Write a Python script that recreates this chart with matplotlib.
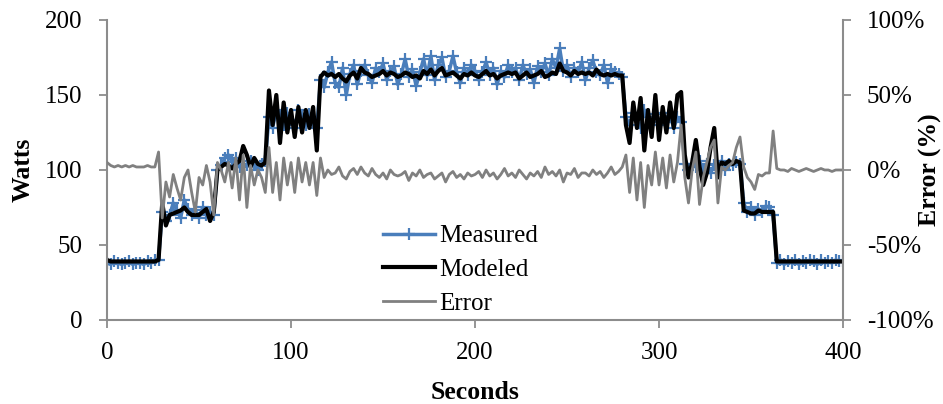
import matplotlib
matplotlib.use("Agg")
import matplotlib.pyplot as plt
from matplotlib.ticker import FuncFormatter
import numpy as np

plt.rcParams['font.family'] = ['Liberation Serif', 'DejaVu Serif']

# time axis, one sample every 2 s
seconds = np.arange(0, 401, 2)

measured = [
    38, 37, 39, 38, 37, 38, 39, 37, 38, 38,             # 0-18
    37, 39, 38, 40, 40, 72, 66, 70, 78, 73,             # 20-38
    68, 80, 74, 70, 73, 68, 75, 70, 72, 70,             # 40-58
    100, 103, 108, 110, 105, 108, 102, 104, 103, 106,   # 60-78
    103, 100, 104, 106, 135, 128, 140, 135, 130, 138,   # 80-98
    133, 128, 140, 135, 130, 137, 132, 128, 160, 155,   # 100-118
    165, 172, 158, 155, 168, 150, 164, 170, 157, 166,   # 120-138
    170, 163, 158, 168, 165, 171, 160, 166, 169, 157,   # 140-158
    164, 174, 162, 167, 156, 165, 174, 163, 176, 160,   # 160-178
    170, 175, 162, 166, 176, 165, 158, 168, 163, 170,   # 180-198
    166, 160, 165, 172, 163, 168, 157, 166, 162, 170,   # 200-218
    165, 168, 160, 170, 164, 167, 158, 169, 165, 171,   # 220-238
    163, 174, 168, 181, 166, 170, 162, 168, 165, 172,   # 240-258
    160, 168, 173, 165, 163, 170, 158, 167, 165, 164,   # 260-278
    162, 135, 130, 138, 133, 128, 140, 135, 132, 137,   # 280-298
    130, 138, 132, 136, 128, 135, 132, 104, 100, 104,   # 300-318
    102, 106, 100, 104, 98, 103, 101, 106, 100, 104,    # 320-338
    103, 105, 104, 78, 72, 75, 70, 74, 72, 76,          # 340-358
    75, 70, 38, 40, 37, 39, 38, 40, 37, 39,             # 360-378
    38, 40, 39, 37, 40, 38, 39, 38, 40, 39,             # 380-398
    39,                                                 # 400
]

modeled = [
    40, 39, 39, 39, 39, 39, 39, 39, 39, 39,
    39, 39, 39, 39, 40, 78, 63, 70, 71, 72,
    73, 75, 72, 70, 70, 70, 72, 74, 66, 72,
    100, 102, 104, 103, 101, 104, 106, 116, 110, 102,
    108, 104, 103, 105, 153, 130, 150, 118, 145, 125,
    140, 122, 142, 125, 140, 128, 142, 113, 162, 165,
    163, 164, 162, 164, 161, 159, 163, 165, 161, 168,
    165, 164, 162, 163, 164, 166, 163, 165, 164, 162,
    163, 165, 164, 162, 163, 161, 166, 164, 167, 163,
    166, 168, 163, 164, 165, 163, 161, 164, 163, 165,
    163, 162, 164, 166, 163, 164, 161, 163, 164, 165,
    164, 165, 161, 163, 165, 162, 163, 164, 166, 162,
    163, 165, 164, 171, 166, 165, 163, 166, 164, 165,
    164, 165, 163, 167, 164, 163, 164, 163, 164, 163,
    163, 130, 118, 145, 128, 148, 113, 140, 122, 150,
    120, 142, 125, 145, 128, 150, 152, 110, 95, 105,
    120, 102, 90, 98, 115, 128, 95, 105, 104, 106,
    104, 106, 105, 73, 72, 71, 71, 73, 72, 72,
    72, 72, 39, 39, 39, 39, 39, 39, 39, 39,
    39, 39, 39, 39, 39, 39, 39, 39, 39, 39,
    39,
]

error_pct = [
    5, 3, 2, 3, 2, 3, 2, 3, 2, 2,
    2, 3, 2, 2, 12, -32, -8, -18, -3, -12,
    -20, -5, 0, -15, -28, -5, -10, 3, -8, -30,
    5, 0, -8, 5, -12, 8, -20, 10, -25, 3,
    -10, 0, -5, -15, 15, -15, 5, -20, 8, -10,
    5, -15, 8, -8, 5, -10, 5, -17, 8, -5,
    0, -3, -2, 2, -4, -6, -1, 1, -3, 2,
    -2, -4, 1, -3, -5, -2, -6, 0, -3, -4,
    -3, -1, -7, -2, -4, 0, -5, -3, -2, -6,
    -4, -2, -8, -3, -1, -5, -3, -6, -2, -4,
    -3, -1, -5, 0, -4, -2, -6, -3, 1, -4,
    -2, -5, 0, -3, -6, -2, -4, -1, -5, 2,
    -3, -1, -4, 0, -8, -2, -3, 1, -5, -2,
    -2, -4, 0, -3, -1, -5, -2, 2, -3, -1,
    2, 10, -15, 8, -20, 5, -25, 3, -10, 12,
    -10, 8, -12, 10, -8, 5, 30, -5, -22, 0,
    12, -23, -5, 5, 15, 20, -22, 2, 0, 3,
    5, 15, 22, 2, -5, -8, -13, -3, -4, -2,
    -2, 26, 1, 0, 0, -1, 1, 0, -1, 0,
    1, 0, -1, 0, 1, 0, 0, -1, 0, 0,
    0,
]

spine_gray = '#8c8c8c'

fig = plt.figure(figsize=(9.43, 4.04), dpi=100)
ax = fig.add_axes([0.1135, 0.208, 0.7805, 0.7425])
ax2 = ax.twinx()

l1, = ax.plot(seconds, measured, color='#4a7ebb', lw=2.5, marker='+',
              ms=9, mew=1.6, label='Measured')
l2, = ax.plot(seconds, modeled, color='black', lw=3, label='Modeled')
l3, = ax2.plot(seconds, error_pct, color='#808080', lw=2, label='Error')

ax.set_xlim(0, 400)
ax.set_ylim(0, 200)
ax2.set_ylim(-100, 100)
ax.set_xticks([0, 100, 200, 300, 400])
ax.set_yticks([0, 50, 100, 150, 200])
ax2.set_yticks([-100, -50, 0, 50, 100])
ax2.yaxis.set_major_formatter(FuncFormatter(lambda v, p: '%d%%' % v))

for a in (ax, ax2):
    a.spines['top'].set_visible(False)
    for s in ('left', 'right', 'bottom'):
        a.spines[s].set_color(spine_gray)
        a.spines[s].set_linewidth(1.5)
    a.tick_params(colors=spine_gray, labelcolor='black', labelsize=18,
                  length=6, width=1.3)
ax.spines['right'].set_visible(False)
ax2.spines['left'].set_visible(False)
ax2.spines['bottom'].set_visible(False)
ax.tick_params(axis='y', pad=12)
ax.tick_params(axis='x', pad=10)
ax2.tick_params(axis='y', pad=11)

ax.set_xlabel('Seconds', fontsize=18.5, fontweight='bold', labelpad=12)
ax.set_ylabel('Watts', fontsize=18.5, fontweight='bold')
ax.yaxis.set_label_coords(-0.098, 0.5)
ax2.set_ylabel('Error (%)', fontsize=18.5, fontweight='bold')
ax2.yaxis.set_label_coords(1.103, 0.5)

ax2.legend([l1, l2, l3], ['Measured', 'Modeled', 'Error'], loc='center',
           bbox_to_anchor=(0.48, 0.167), frameon=False, fontsize=18,
           handlelength=2.1, handletextpad=0.15, labelspacing=0.45)

fig.savefig('out.png', dpi=100)
